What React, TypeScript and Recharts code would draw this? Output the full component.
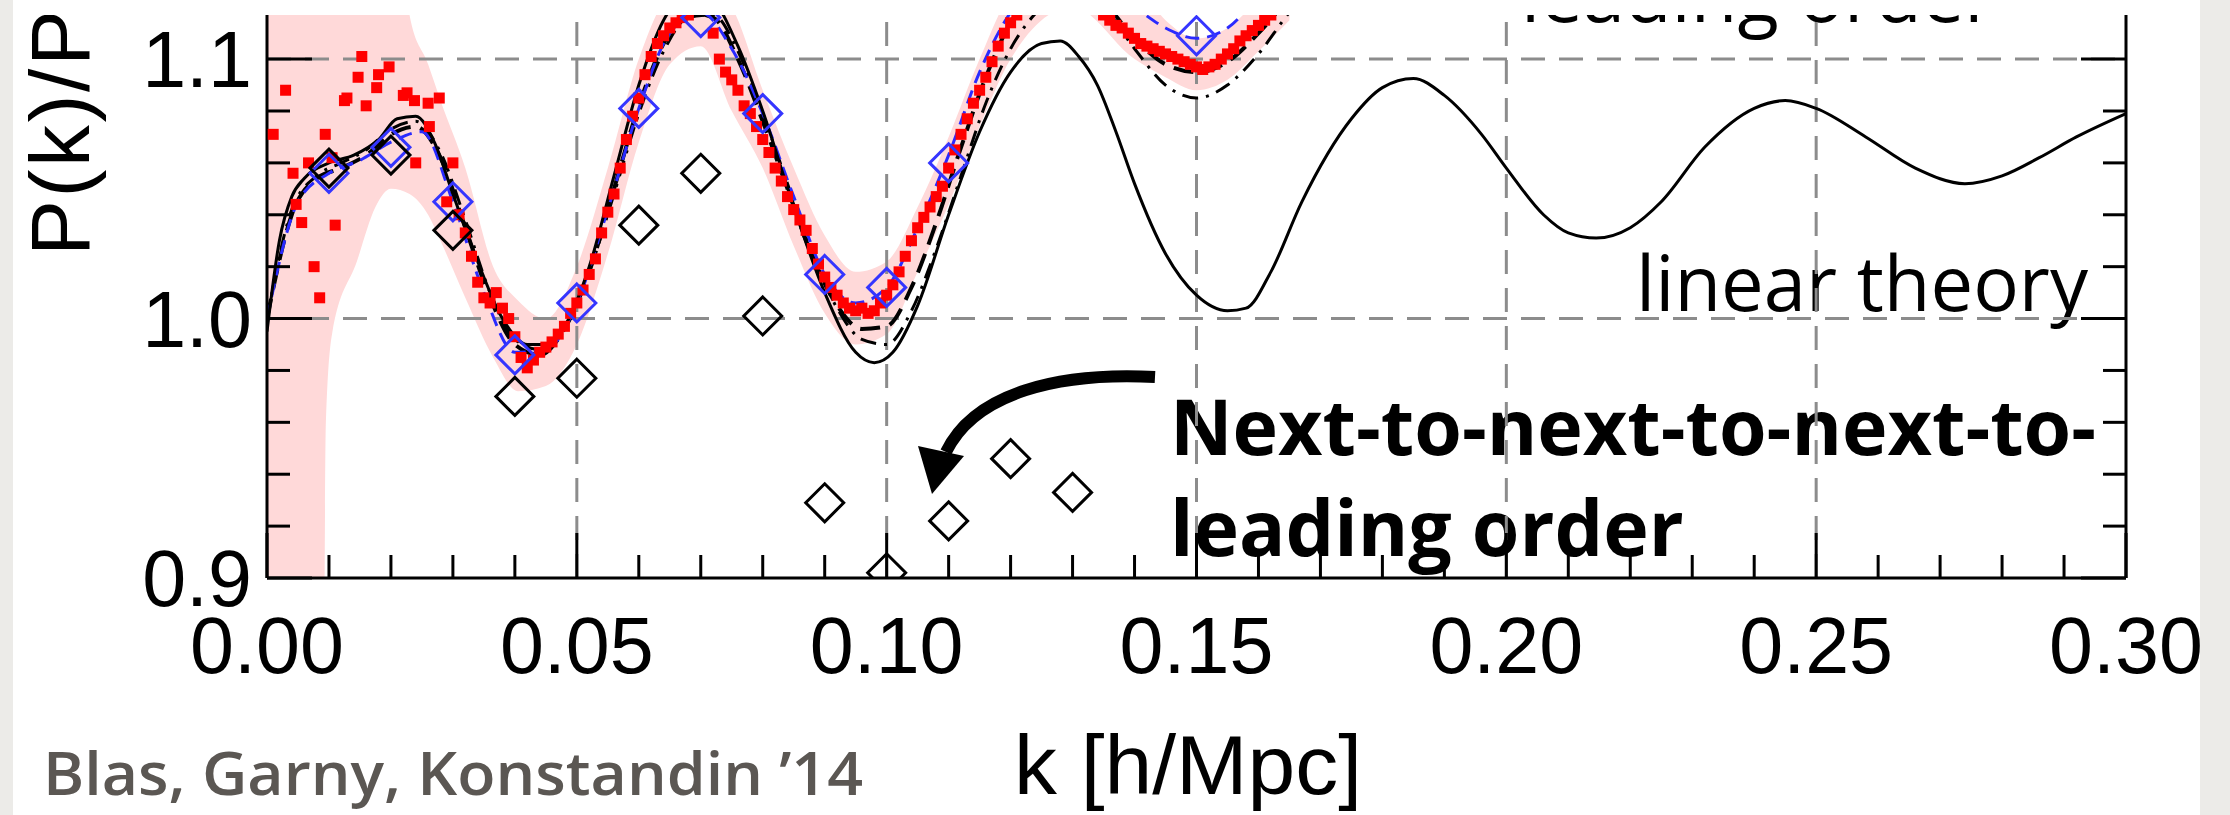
import React from 'react';
import {
  ComposedChart, Line, Area, Scatter, XAxis, YAxis, ReferenceLine,
} from 'recharts';

// ---------- tick labels ----------
const xTicks = [0, 0.01, 0.02, 0.03, 0.04, 0.05, 0.06, 0.07, 0.08, 0.09, 0.1, 0.11, 0.12, 0.13, 0.14, 0.15,
  0.16, 0.17, 0.18, 0.19, 0.2, 0.21, 0.22, 0.23, 0.24, 0.25, 0.26, 0.27, 0.28, 0.29, 0.3];
const xMajor = [0, 0.05, 0.1, 0.15, 0.2, 0.25, 0.3];
const yTicks = [0.9, 0.92, 0.94, 0.96, 0.98, 1.0, 1.02, 1.04, 1.06, 1.08, 1.1];
const yMajor = [0.9, 1.0, 1.1];
const xGrid = [0.05, 0.1, 0.15, 0.2, 0.25];
const yGrid = [1.0, 1.1];

// ---------- linear theory (solid thin) ----------
const linK = [0, 0.002, 0.004, 0.006, 0.01, 0.014, 0.018, 0.021, 0.024, 0.027, 0.03, 0.034, 0.038, 0.042, 0.045,
  0.048, 0.052, 0.056, 0.06, 0.064, 0.068, 0.072, 0.076, 0.08, 0.085, 0.09, 0.095, 0.098, 0.101, 0.105, 0.11,
  0.115, 0.12, 0.125, 0.128, 0.131, 0.134, 0.137, 0.14, 0.145, 0.15, 0.155, 0.158, 0.162, 0.167, 0.175, 0.18,
  0.185, 0.19, 0.196, 0.2, 0.206, 0.21, 0.2145, 0.22, 0.225, 0.232, 0.24, 0.245, 0.25, 0.258, 0.266, 0.274,
  0.28, 0.286, 0.292, 0.3];
const linV = [0.995, 1.03, 1.047, 1.054, 1.06, 1.063, 1.069, 1.077, 1.078, 1.068, 1.048, 1.022, 1.0, 0.99, 0.99,
  0.997, 1.02, 1.055, 1.09, 1.115, 1.125, 1.122, 1.105, 1.08, 1.043, 1.01, 0.987, 0.983, 0.987, 1.005, 1.04,
  1.072, 1.095, 1.106, 1.107, 1.101, 1.09, 1.072, 1.052, 1.025, 1.009, 1.003, 1.004, 1.018, 1.045, 1.077, 1.089,
  1.0925, 1.086, 1.071, 1.058, 1.04, 1.033, 1.031, 1.035, 1.045, 1.066, 1.081, 1.084, 1.081, 1.07, 1.058, 1.052,
  1.055, 1.062, 1.07, 1.079];

// ---------- black dashed curve ----------
const dashK = [0, 0.004, 0.008, 0.012, 0.016, 0.02, 0.024, 0.028, 0.032, 0.036, 0.04, 0.044, 0.048, 0.052, 0.056,
  0.06, 0.064, 0.068, 0.072, 0.076, 0.08, 0.084, 0.088, 0.092, 0.096, 0.1, 0.104, 0.108, 0.112, 0.116, 0.12, 0.124,
  0.13, 0.135, 0.14, 0.145, 0.15, 0.155, 0.16, 0.165];
const dashV = [1.0, 1.04, 1.054, 1.058, 1.063, 1.071, 1.074, 1.062, 1.035, 1.008, 0.99, 0.986, 0.996, 1.018, 1.05,
  1.082, 1.106, 1.118, 1.116, 1.1, 1.076, 1.05, 1.024, 1.005, 0.996, 0.997, 1.012, 1.037, 1.066, 1.093, 1.114, 1.125,
  1.13, 1.122, 1.108, 1.098, 1.095, 1.099, 1.11, 1.124];

// ---------- black dash-dot curve ----------
const ddK = [0, 0.004, 0.008, 0.012, 0.016, 0.02, 0.024, 0.028, 0.032, 0.036, 0.04, 0.044, 0.048, 0.052, 0.056,
  0.06, 0.064, 0.068, 0.072, 0.076, 0.08, 0.084, 0.088, 0.092, 0.096, 0.1, 0.104, 0.108, 0.112, 0.116, 0.12, 0.125,
  0.13, 0.135, 0.14, 0.145, 0.15, 0.155, 0.16, 0.165, 0.17];
const ddV = [1.0, 1.042, 1.055, 1.06, 1.065, 1.073, 1.076, 1.064, 1.038, 1.01, 0.992, 0.988, 0.997, 1.018, 1.048,
  1.079, 1.103, 1.116, 1.117, 1.103, 1.079, 1.052, 1.025, 1.004, 0.992, 0.99, 1.003, 1.027, 1.055, 1.083, 1.104, 1.12,
  1.127, 1.12, 1.104, 1.09, 1.085, 1.09, 1.102, 1.118, 1.13];

// ---------- blue dashed curve ----------
const blueK = [0, 0.005, 0.01, 0.015, 0.02, 0.025, 0.03, 0.035, 0.04, 0.045, 0.05, 0.055, 0.06, 0.065, 0.07, 0.075,
  0.08, 0.085, 0.09, 0.095, 0.1, 0.105, 0.11, 0.115, 0.12, 0.125, 0.13, 0.135, 0.14, 0.145, 0.15, 0.155, 0.16];
const blueV = [1.0, 1.045, 1.056, 1.061, 1.068, 1.072, 1.045, 1.01, 0.987, 0.988, 1.006, 1.042, 1.081, 1.11, 1.118,
  1.104, 1.079, 1.047, 1.017, 1.006, 1.012, 1.035, 1.063, 1.095, 1.118, 1.13, 1.133, 1.128, 1.12, 1.112, 1.108,
  1.112, 1.125];

// ---------- N-body error band ----------
const bandK = [0, 0.009, 0.0095, 0.0105, 0.0145, 0.0175, 0.02, 0.023, 0.026, 0.028, 0.032, 0.0365, 0.0405, 0.045,
  0.05, 0.055, 0.06, 0.065, 0.07, 0.075, 0.08, 0.085, 0.09, 0.095, 0.1, 0.105, 0.11, 0.115, 0.12, 0.13, 0.14,
  0.145, 0.15, 0.155, 0.16, 0.165];
const bandLo = [0.8, 0.8, 0.96, 0.994, 1.022, 1.043, 1.05, 1.048, 1.04, 1.03, 1.008, 0.985, 0.972, 0.974, 0.99,
  1.025, 1.068, 1.098, 1.105, 1.08, 1.058, 1.028, 1.002, 0.99, 0.994, 1.018, 1.044, 1.074, 1.1, 1.12, 1.1,
  1.093, 1.088, 1.092, 1.103, 1.115];
const bandHi = [1.3, 1.3, 1.3, 1.3, 1.3, 1.3, 1.3, 1.117, 1.098, 1.084, 1.058, 1.02, 1.007, 1.0, 1.02,
  1.058, 1.1, 1.125, 1.13, 1.12, 1.088, 1.058, 1.032, 1.018, 1.022, 1.043, 1.07, 1.1, 1.125, 1.14, 1.13,
  1.115, 1.108, 1.112, 1.123, 1.135];

// ---------- N-body points (red) ----------
const redK = [0.001, 0.003, 0.0042, 0.0047, 0.0056, 0.0067, 0.0076, 0.0085, 0.0094, 0.0105, 0.011, 0.0125, 0.0129,
  0.0147, 0.0153, 0.016, 0.0177, 0.018, 0.0197, 0.022, 0.0226, 0.0238, 0.024, 0.026, 0.0262, 0.0278, 0.029, 0.03,
  0.031, 0.032, 0.033, 0.034, 0.035, 0.036, 0.037, 0.038, 0.039, 0.04, 0.041, 0.042, 0.043, 0.044, 0.045, 0.046,
  0.047, 0.048, 0.049, 0.05, 0.051, 0.052, 0.053, 0.054, 0.055, 0.056, 0.057, 0.058, 0.059, 0.06, 0.061, 0.062,
  0.063, 0.064, 0.065, 0.066, 0.067, 0.068, 0.072, 0.073, 0.074, 0.075, 0.076, 0.077, 0.078, 0.079, 0.08, 0.081,
  0.082, 0.083, 0.084, 0.085, 0.086, 0.087, 0.088, 0.089, 0.09, 0.091, 0.092, 0.093, 0.094, 0.095, 0.096, 0.097,
  0.098, 0.099, 0.1, 0.101, 0.102, 0.103, 0.104, 0.105, 0.106, 0.107, 0.108, 0.109, 0.11, 0.111, 0.112, 0.113,
  0.114, 0.115, 0.116, 0.117, 0.118, 0.119, 0.12, 0.121, 0.135, 0.136, 0.137, 0.138, 0.139, 0.14, 0.141, 0.142,
  0.143, 0.144, 0.145, 0.146, 0.147, 0.148, 0.149, 0.15, 0.151, 0.152, 0.153, 0.154, 0.155, 0.156, 0.157, 0.158,
  0.159, 0.16, 0.161, 0.162];
const redV = [1.071, 1.088, 1.056, 1.044, 1.037, 1.06, 1.02, 1.008, 1.071, 1.062, 1.036, 1.084, 1.085,
  1.093, 1.101, 1.082, 1.089, 1.094, 1.097, 1.086, 1.087, 1.084, 1.06, 1.083, 1.074, 1.085, 1.045, 1.06,
  1.04, 1.033, 1.024, 1.014, 1.008, 1.006, 1.01, 1.004, 1.0, 0.993, 0.985, 0.981, 0.984, 0.987, 0.989, 0.991,
  0.994, 0.997, 1.002, 1.006, 1.011, 1.017, 1.023, 1.033, 1.041, 1.048, 1.058, 1.069, 1.078, 1.085, 1.094, 1.101,
  1.106, 1.109, 1.112, 1.114, 1.116, 1.117, 1.11, 1.1, 1.095, 1.092, 1.088, 1.082, 1.079, 1.074, 1.069, 1.064,
  1.058, 1.053, 1.047, 1.042, 1.038, 1.034, 1.027, 1.021, 1.016, 1.012, 1.009, 1.006, 1.004, 1.003, 1.004, 1.002,
  1.003, 1.006, 1.009, 1.013, 1.018, 1.024, 1.03, 1.035, 1.039, 1.043, 1.047, 1.051, 1.058, 1.065, 1.071, 1.077,
  1.083, 1.088, 1.093, 1.099, 1.105, 1.11, 1.114, 1.117, 1.117, 1.115, 1.113, 1.112, 1.11, 1.108, 1.106, 1.105,
  1.104, 1.103, 1.102, 1.101, 1.1, 1.099, 1.098, 1.097, 1.096, 1.097, 1.098, 1.1, 1.102, 1.104, 1.107, 1.109,
  1.111, 1.113, 1.115, 1.117];

// ---------- diamonds ----------
const blueDiaK = [0.01, 0.02, 0.03, 0.04, 0.05, 0.06, 0.07, 0.08, 0.09, 0.1, 0.11, 0.15];
const blueDiaV = [1.056, 1.066, 1.045, 0.986, 1.006, 1.081, 1.116, 1.079, 1.017, 1.012, 1.06, 1.109];
const blackDiaK = [0.01, 0.02, 0.03, 0.04, 0.05, 0.06, 0.07, 0.08, 0.09, 0.1, 0.11, 0.12, 0.13];
const blackDiaV = [1.058, 1.063, 1.034, 0.97, 0.977, 1.036, 1.056, 1.001, 0.929, 0.902, 0.922, 0.946, 0.933];

const zip = (ks: number[], vs: number[]) => ks.map((k, i) => ({ k, v: vs[i] }));
const linData = zip(linK, linV);
const dashData = zip(dashK, dashV);
const ddData = zip(ddK, ddV);
const blueData = zip(blueK, blueV);
const bandData = bandK.map((k, i) => ({ k, r: [bandLo[i], bandHi[i]] }));
const redData = zip(redK, redV);
const blueDia = zip(blueDiaK, blueDiaV);
const blackDia = zip(blackDiaK, blackDiaV);

const W = 2230;
const H = 815;
const FONT = '"Liberation Sans", Arial, Helvetica, sans-serif';
const near = (a: number, list: number[]) => list.some((m) => Math.abs(m - a) < 1e-6);

const XTick = (p: any) => {
  const { x, y, payload } = p;
  const major = near(payload.value, xMajor);
  return (
    <g>
      <line x1={x} x2={x} y1={y} y2={y - (major ? 45 : 23)} stroke="#000" strokeWidth={3} />
      {major && (
        <text x={x} y={y + 95} textAnchor="middle" fontSize={79} fontFamily={FONT} fill="#000">
          {payload.value.toFixed(2)}
        </text>
      )}
    </g>
  );
};
const YTickL = (p: any) => {
  const { x, y, payload } = p;
  const major = near(payload.value, yMajor);
  return (
    <g>
      <line x1={x} x2={x + (major ? 45 : 23)} y1={y} y2={y} stroke="#000" strokeWidth={3} />
      {major && (
        <text x={x - 15} y={y + 28} textAnchor="end" fontSize={79} fontFamily={FONT} fill="#000">
          {payload.value.toFixed(1)}
        </text>
      )}
    </g>
  );
};
const YTickR = (p: any) => {
  const { x, y, payload } = p;
  const major = near(payload.value, yMajor);
  return <line x1={x} x2={x - (major ? 45 : 23)} y1={y} y2={y} stroke="#000" strokeWidth={3} />;
};

const RedSq = (p: any) => <rect x={p.cx - 5.5} y={p.cy - 5.5} width={11} height={11} fill="#ff0000" />;
const Dia = (color: string) => (p: any) => (
  <path d={`M${p.cx},${p.cy - 19}L${p.cx + 19},${p.cy}L${p.cx},${p.cy + 19}L${p.cx - 19},${p.cy}Z`}
    fill="none" stroke={color} strokeWidth={3} />
);

export default function App() {
  return (
    <div style={{ position: 'absolute', left: 0, top: 0, width: W, height: H, background: '#fff', overflow: 'hidden' }}>
      {/* background annotations (drawn under grid) */}
      <svg width={W} height={H} style={{ position: 'absolute', left: 0, top: 0 }}>
        <defs>
          <clipPath id="topclip"><rect x={0} y={15} width={W} height={H} /></clipPath>
        </defs>
        <rect x={0} y={0} width={13} height={H} fill="#ecebe8" />
        <rect x={2200} y={0} width={30} height={H} fill="#ecebe8" />
        <g clipPath="url(#topclip)">
          <text x={1521} y={22} fontSize={76} fontFamily='"Open Sans", sans-serif' fill="#000">leading order</text>
          <text x={89} y={256} fontSize={84} fontFamily={FONT} fill="#000" textLength={246} lengthAdjust="spacing"
            transform="rotate(-90 89 256)">P(k)/P</text>
        </g>
        <text x={2088} y={311} textAnchor="end" fontSize={76} fontFamily='"Open Sans", sans-serif' fill="#000">linear theory</text>
        <text x={1170} y={455} fontSize={77} fontWeight={700} fontFamily='"Open Sans", sans-serif' fill="#000">Next-to-next-to-next-to-</text>
        <text x={1170} y={556} fontSize={77} fontWeight={700} fontFamily='"Open Sans", sans-serif' fill="#000">leading order</text>
        <path d="M1155,377 C1060,372 975,392 946,452" fill="none" stroke="#000" strokeWidth={12} />
        <polygon points="918,446 964,456 932,494" fill="#000" />
        <text x={43} y={795} fontSize={60} fontWeight={600} fontFamily='"Open Sans", sans-serif' fill="#5b5753"
          textLength={820} lengthAdjust="spacingAndGlyphs">Blas, Garny, Konstandin ’14</text>
        <text x={1014} y={794} fontSize={84} fontFamily={FONT} fill="#000" textLength={348}
          lengthAdjust="spacingAndGlyphs">k [h/Mpc]</text>
      </svg>
      <div style={{ position: 'absolute', left: 0, top: 0 }}>
        <ComposedChart width={W} height={H} margin={{ top: 15, right: 44, bottom: 177, left: 207 }}>
          <XAxis dataKey="k" type="number" domain={[0, 0.3]} ticks={xTicks} interval={0} allowDataOverflow
            tickSize={0} tickMargin={0} tickLine={false} height={60}
            axisLine={{ stroke: '#000', strokeWidth: 3 }} tick={(p: any) => <XTick {...p} />} />
          <YAxis yAxisId="l" type="number" domain={[0.9, 1.117]} ticks={yTicks} interval={0} allowDataOverflow
            tickSize={0} tickMargin={0} tickLine={false} width={60}
            axisLine={{ stroke: '#000', strokeWidth: 3 }} tick={(p: any) => <YTickL {...p} />} />
          <YAxis yAxisId="r" orientation="right" type="number" domain={[0.9, 1.117]} ticks={yTicks} interval={0}
            allowDataOverflow tickSize={0} tickMargin={0} tickLine={false} width={60}
            axisLine={{ stroke: '#000', strokeWidth: 3 }} tick={(p: any) => <YTickR {...p} />} />
          {xGrid.map((g) => (
            <ReferenceLine key={'x' + g} x={g} yAxisId="l" stroke="#8c8c8c" strokeWidth={3} strokeDasharray="24 14" />
          ))}
          {yGrid.map((g) => (
            <ReferenceLine key={'y' + g} y={g} yAxisId="l" stroke="#8c8c8c" strokeWidth={3} strokeDasharray="24 14" />
          ))}
          <Area data={bandData} dataKey="r" yAxisId="l" type="monotone" fill="#ffd9d9" fillOpacity={1}
            stroke="none" isAnimationActive={false} />
          <Line data={ddData} dataKey="v" yAxisId="l" type="monotone" dot={false} stroke="#000" strokeWidth={3}
            strokeDasharray="16 8 3 8" isAnimationActive={false} />
          <Line data={dashData} dataKey="v" yAxisId="l" type="monotone" dot={false} stroke="#000" strokeWidth={4}
            strokeDasharray="20 10" isAnimationActive={false} />
          <Scatter data={redData} dataKey="v" yAxisId="l" shape={RedSq} isAnimationActive={false} />
          <Line data={blueData} dataKey="v" yAxisId="l" type="monotone" dot={false} stroke="#2a2aff" strokeWidth={3}
            strokeDasharray="14 8" isAnimationActive={false} />
          <Line data={linData} dataKey="v" yAxisId="l" type="monotone" dot={false} stroke="#000" strokeWidth={3}
            isAnimationActive={false} />
          <Scatter data={blueDia} dataKey="v" yAxisId="l" shape={Dia('#3535ff')} isAnimationActive={false} />
          <Scatter data={blackDia} dataKey="v" yAxisId="l" shape={Dia('#000')} isAnimationActive={false} />
        </ComposedChart>
      </div>
    </div>
  );
}
